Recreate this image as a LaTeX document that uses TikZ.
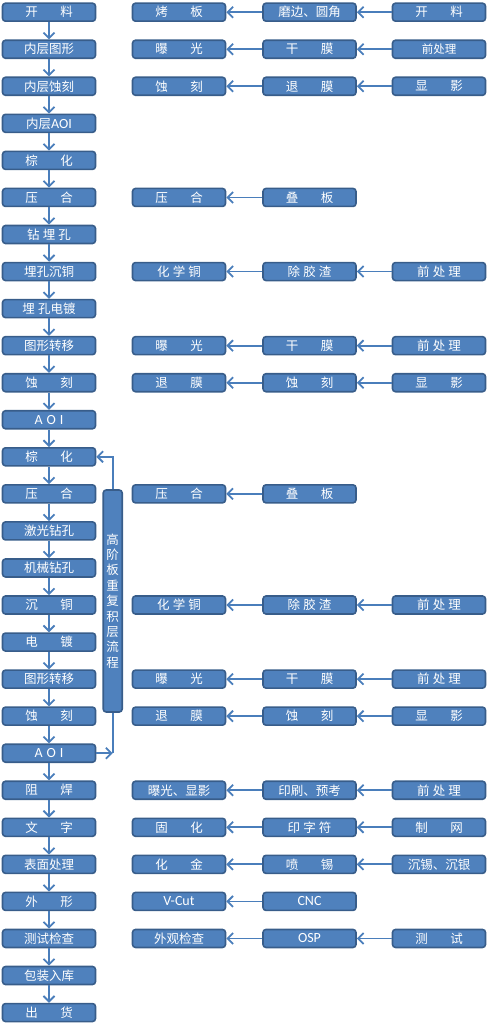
\documentclass[tikz,border=0pt]{standalone}
\usepackage{fontspec}
\setmainfont{Carlito}
\newfontfamily\cjk{Noto Sans CJK SC}
\usetikzlibrary{arrows.meta}

\definecolor{boxfill}{HTML}{4F81BD}
\definecolor{boxline}{HTML}{385D8A}
\definecolor{flowline}{HTML}{4A7EBB}

\def\gap{\hspace{1.8em}}
\def\sgap{\hspace{0.25em}}
\def\rowy{37.05}

\tikzset{
  box/.style={draw=boxline, fill=boxfill, line width=1.6pt, rounded corners=3pt,
    minimum width=93pt, minimum height=18pt, inner sep=0pt, text=white,
    font=\cjk\fontsize{12.5}{12.5}\selectfont},
  latin/.style={font=\fontsize{14}{14}\selectfont},
  flow/.style={draw=flowline, line width=1.8pt, -{Straight Barb[length=5.5pt,width=11pt]}},
  flowplain/.style={draw=flowline, line width=1.8pt},
}

\begin{document}
\begin{tikzpicture}[x=1pt, y=-1pt]

\useasboundingbox (0,0) rectangle (488,1024);

%//main column
\foreach \r/\t in {0/开\gap 料, 1/内层图形, 2/内层蚀刻, 3/内层{\rmfamily\fontsize{14}{14}\selectfont AOI}, 4/棕\gap 化,
  5/压\gap 合, 6/钻\sgap 埋\sgap 孔, 7/埋孔沉铜, 8/埋\sgap 孔电镀, 9/图形转移,
  10/蚀\gap 刻, 11/{\rmfamily\fontsize{14}{14}\selectfont A\hspace{4pt}O\hspace{4pt}I}, 12/棕\gap 化, 13/压\gap 合,
  14/激光钻孔, 15/机械钻孔, 16/沉\gap 铜, 17/电\gap 镀, 18/图形转移, 19/蚀\gap 刻,
  20/{\rmfamily\fontsize{14}{14}\selectfont A\hspace{4pt}O\hspace{4pt}I}, 21/阻\gap 焊, 22/文\gap 字, 23/表面处理,
  24/外\gap 形, 25/测试检查, 26/包装入库, 27/出\gap 货}
\node [box] (L\r) at (49, {12.2+\rowy*\r}) {\t};

\foreach \r in {0,...,26}{
  \pgfmathtruncatemacro\n{\r+1}
  \draw [flow] (L\r) -- (L\n);
}

%//side rows with three steps
\foreach \r/\a/\b/\c in {0/烤\gap 板/磨边、圆角/开\gap 料,
  1/曝\gap 光/干\gap 膜/{\fontsize{11.5}{11.5}\selectfont 前处理},
  2/蚀\gap 刻/退\gap 膜/显\gap 影,
  7/化\sgap 学\sgap 铜/除\sgap 胶\sgap 渣/前\sgap 处\sgap 理,
  9/曝\gap 光/干\gap 膜/前\sgap 处\sgap 理,
  10/退\gap 膜/蚀\gap 刻/显\gap 影,
  16/化\sgap 学\sgap 铜/除\sgap 胶\sgap 渣/前\sgap 处\sgap 理,
  18/曝\gap 光/干\gap 膜/前\sgap 处\sgap 理,
  19/退\gap 膜/蚀\gap 刻/显\gap 影,
  21/曝光、显影/印刷、预考/前\sgap 处\sgap 理,
  22/固\gap 化/印\sgap 字\sgap 符/制\gap 网,
  23/化\gap 金/喷\gap 锡/沉锡、沉银,
  25/外观检查/{\rmfamily\fontsize{14}{14}\selectfont OSP}/测\gap 试}{
  \node [box] (A\r) at (179, {12.2+\rowy*\r}) {\a};
  \node [box] (B\r) at (309.5, {12.2+\rowy*\r}) {\b};
  \node [box] (C\r) at (439, {12.2+\rowy*\r}) {\c};
  \draw [flow] (B\r) -- (A\r);
  \draw [flow] (C\r) -- (B\r);
}

%//side rows with two steps
\foreach \r/\a/\b in {5/压\gap 合/叠\gap 板, 13/压\gap 合/叠\gap 板,
  24/{\rmfamily\fontsize{14}{14}\selectfont V-Cut}/{\rmfamily\fontsize{14}{14}\selectfont CNC}}{
  \node [box] (A\r) at (179, {12.2+\rowy*\r}) {\a};
  \node [box] (B\r) at (309.5, {12.2+\rowy*\r}) {\b};
  \draw [flow] (B\r) -- (A\r);
}

%//repeat loop
\node [box, minimum width=19pt, minimum height=222pt, align=center,
  font=\cjk\fontsize{12.5}{15.4}\selectfont] (loop) at (112.7, 601)
  {高\\阶\\板\\重\\复\\积\\层\\流\\程};

\coordinate (turn) at (loop.south |- L20.east);
\draw [flow] (L20.east) -- (turn);
\draw [flowplain] (loop.south) -- (turn);
\draw [flow] (loop.north) |- (L12.east);

\end{tikzpicture}
\end{document}
